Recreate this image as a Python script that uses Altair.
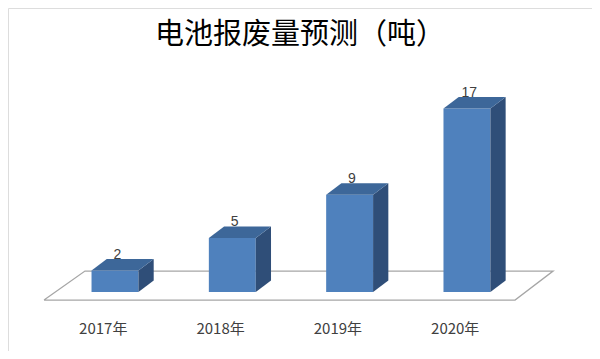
import altair as alt
import pandas as pd

# ---- data ----
categories = ["2017年", "2018年", "2019年", "2020年"]
values = [2, 5, 9, 17]
title_text = "电池报废量预测（吨）"

# ---- style / layout constants ----
HALF_W = 0.20      # half width of a bar front face, in category units
DX = 0.13          # depth offset along x, category units
DY = 1.07          # depth offset along y, value units
FRONT = "#4F81BD"
TOP = "#3D6799"
SIDE = "#2F4E78"
X_DOMAIN = [-0.912, 4.066]
Y_DOMAIN = [-5.46, 26.3]
W, H = 584, 343

front_rows, side_rows, top_rows, lab_rows, cat_rows = [], [], [], [], []
for i, (c, v) in enumerate(zip(categories, values)):
    l, r = i - HALF_W, i + HALF_W
    front_rows.append(dict(cat=c, x=l, x2=r, y=0, y2=v))
    side_rows += [dict(cat=c, x=r, y=0, y2=v), dict(cat=c, x=r + DX, y=DY, y2=v + DY)]
    top_rows += [
        dict(cat=c, x=l, y=v, y2=v),
        dict(cat=c, x=l + DX, y=v, y2=v + DY),
        dict(cat=c, x=r, y=v, y2=v + DY),
        dict(cat=c, x=r + DX, y=v + DY, y2=v + DY),
    ]
    lab_rows.append(dict(cat=c, x=i + 0.02, y=v + DY, label=str(v)))
    cat_rows.append(dict(cat=c, x=i - 0.10, y=-3.4))

floor_pts = pd.DataFrame({
    "x": [-0.605, -0.256, 3.734, 3.41, -0.605],
    "y": [-0.74, 1.94, 1.94, -0.74, -0.74],
    "o": [0, 1, 2, 3, 4],
})

xs = alt.Scale(domain=X_DOMAIN, nice=False, zero=False)
ys = alt.Scale(domain=Y_DOMAIN, nice=False, zero=False)
X = lambda f="x": alt.X(f"{f}:Q", scale=xs, axis=None)
Y = lambda f="y": alt.Y(f"{f}:Q", scale=ys, axis=None)

floor = alt.Chart(floor_pts).mark_line(color="#A6A6A6", strokeWidth=1.3).encode(
    x=X(), y=Y(), order="o:Q"
)
front = alt.Chart(pd.DataFrame(front_rows)).mark_rect(color=FRONT).encode(
    x=X(), x2="x2:Q", y=Y(), y2="y2:Q"
)
side = alt.Chart(pd.DataFrame(side_rows)).mark_area(color=SIDE, opacity=1).encode(
    x=X(), y=Y(), y2="y2:Q", detail="cat:N"
)
top = alt.Chart(pd.DataFrame(top_rows)).mark_area(color=TOP, opacity=1).encode(
    x=X(), y=Y(), y2="y2:Q", detail="cat:N"
)
labels = alt.Chart(pd.DataFrame(lab_rows)).mark_text(
    baseline="bottom", dy=3, fontSize=14, color="#404040", font="Liberation Sans"
).encode(x=X(), y=Y(), text="label:N")
cats = alt.Chart(pd.DataFrame(cat_rows)).mark_text(
    baseline="middle", fontSize=15, color="#404040", font="Noto Sans CJK SC"
).encode(x=X(), y=Y(), text="cat:N")
title = alt.Chart(pd.DataFrame({"t": [title_text]})).mark_text(
    baseline="middle", align="center", fontSize=29, font="Noto Sans CJK SC",
    color="#000000",
).encode(x=alt.value(W / 2), y=alt.value(27), text="t:N")

chart = alt.layer(floor, front, side, top, labels, cats, title).properties(
    width=W,
    height=H,
    padding=0,
).configure_view(stroke="#BFBFBF", strokeWidth=1).configure(background="white")

chart.save("out.html", embed_options={"renderer": "svg", "actions": False})
